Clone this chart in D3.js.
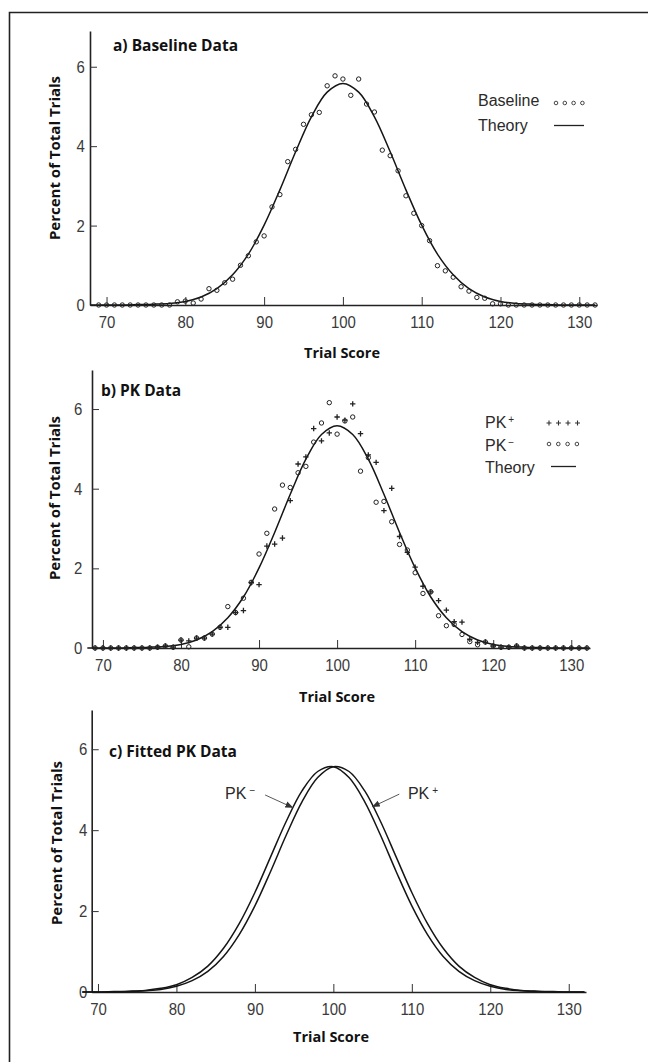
<!DOCTYPE html>
<html lang="en">
<head>
<meta charset="UTF-8">
<title>Baseline and PK data</title>
<script src="https://d3js.org/d3.v7.min.js"></script>
<style>
  body { margin: 0; background: #fff; }
  .tick text { font-family: "Liberation Sans", Arial, sans-serif; font-size: 17px; fill: #3a3a3a; }
  .tick line { stroke: #333; stroke-width: 1; }
  .domain { stroke: #222; stroke-width: 1.6; }
  .bold { font-family: "Open Sans", sans-serif; font-weight: 700; fill: #111; }
  .leg { font-family: "Liberation Sans", Arial, sans-serif; font-size: 16px; fill: #2a2a2a; }
</style>
</head>
<body>
<svg width="648" height="1062"></svg>
<script>
// trial scores (x categories)
var scores = [69,70,71,72,73,74,75,76,77,78,79,80,81,82,83,84,85,86,87,88,89,90,91,92,93,94,95,96,97,98,99,100,
              101,102,103,104,105,106,107,108,109,110,111,112,113,114,115,116,117,118,119,120,121,122,123,124,125,126,127,128,129,130,131,132];

// a) baseline percent per score
var baseline = [0,0,0,0,0,0,0,0,0,0,0.08,0.1,0.05,0.15,0.41,0.37,0.56,0.65,1.0,1.24,1.59,1.74,2.47,2.78,3.61,3.92,4.55,4.79,4.85,5.52,5.77,5.69,
                5.28,5.69,5.06,4.86,3.9,3.76,3.38,2.75,2.31,2.0,1.62,0.99,0.86,0.7,0.46,0.35,0.19,0.17,0.03,0.03,0,0,0,0,0,0,0,0,0,0,0,0];

// b) PK+ and PK- percent per score
var pkPlus = [0,0,0,0,0,0,0,0,0.02,0.05,0.02,0.2,0.18,0.25,0.25,0.35,0.52,0.52,0.89,0.94,1.64,1.59,2.56,2.61,2.76,3.7,4.62,4.8,5.51,5.2,5.4,5.8,
              5.72,6.13,5.38,4.85,4.66,3.45,4.01,2.8,2.4,2.03,1.55,1.41,1.19,0.95,0.66,0.65,0.22,0.14,0.15,0.05,0.02,0.02,0.05,0,0,0,0,0,0,0,0,0];
var pkMinus = [0,0,0,0,0,0,0,0,0.02,0.05,0.02,0.2,0.03,0.25,0.25,0.35,0.52,1.04,0.89,1.25,1.65,2.36,2.88,3.49,4.09,4.03,4.4,4.56,5.17,5.65,6.16,5.37,
               5.7,5.8,4.44,4.78,3.66,3.68,3.17,2.6,2.46,1.89,1.37,1.41,0.81,0.56,0.59,0.34,0.16,0.08,0.15,0.05,0.02,0.02,0.05,0,0,0,0,0,0,0,0,0];

// curves, sampled every 2 score points
var curveScores = [68,70,72,74,76,78,80,82,84,86,88,90,92,94,96,98,100,102,104,106,108,110,112,114,116,118,120,122,124,126,128,130,132];
var theory   = [0,0,0,0.01,0.02,0.04,0.09,0.20,0.41,0.76,1.28,2.01,2.90,3.86,4.74,5.36,5.58,5.36,4.74,3.86,2.90,2.01,1.28,0.76,0.41,0.20,0.09,0.04,0.02,0.01,0,0,0];
var fitMinus = [0,0,0.01,0.02,0.04,0.09,0.18,0.36,0.64,1.08,1.69,2.46,3.34,4.22,4.97,5.45,5.57,5.30,4.70,3.88,2.98,2.13,1.42,0.88,0.51,0.28,0.14,0.06,0.03,0.01,0,0,0];
var fitPlus  = [0,0,0,0.01,0.03,0.06,0.14,0.28,0.51,0.88,1.42,2.13,2.98,3.88,4.70,5.30,5.57,5.45,4.97,4.22,3.34,2.46,1.69,1.08,0.64,0.36,0.18,0.09,0.04,0.02,0.01,0,0];

var xTicks = [70, 80, 90, 100, 110, 120, 130];
var yTicks = [0, 2, 4, 6];

var svg = d3.select('svg');

// frame (only top and left edges show)
svg.append('path').attr('d', 'M9.5,1062V12.5H648')
    .attr('fill', 'none').attr('stroke', '#222').attr('stroke-width', 1.6);

function makePanel(p) {
    var x = d3.scaleLinear().domain(p.xd).range(p.xr);
    var y = d3.scaleLinear().domain(p.yd).range(p.yr);
    var g = svg.append('g');

    g.append('g')
        .attr('transform', 'translate(0,' + p.yr[0] + ')')
        .call(d3.axisBottom(x).tickValues(xTicks).tickFormat(d3.format('d'))
            .tickSizeInner(-8).tickSizeOuter(0).tickPadding(11))
        .selectAll('.tick text').attr('transform', 'scale(0.88,1)');

    g.append('g')
        .attr('transform', 'translate(' + p.xr[0] + ',0)')
        .call(d3.axisLeft(y).tickValues(yTicks).tickFormat(d3.format('d'))
            .tickSizeInner(-7).tickSizeOuter(0).tickPadding(p.ypad))
        .selectAll('.tick text').attr('transform', 'scale(0.88,1)');

    // axis titles
    g.append('text').attr('class', 'bold')
        .attr('transform', 'translate(' + p.ylabX + ',' + p.ylabY + ') rotate(-90)')
        .attr('text-anchor', 'middle').attr('dy', '0.35em')
        .style('font-size', '15px')
        .text('Percent of Total Trials');
    g.append('text').attr('class', 'bold')
        .attr('x', p.xlabX).attr('y', p.xlabY)
        .attr('text-anchor', 'middle')
        .style('font-size', '14.5px')
        .text('Trial Score');
    g.append('text').attr('class', 'bold')
        .attr('x', p.titleX).attr('y', p.titleY)
        .style('font-size', '15.5px')
        .text(p.title);

    return { g: g, x: x, y: y };
}

var line = function (x, y) {
    return d3.line().x(function (d) { return x(d[0]); }).y(function (d) { return y(d[1]); })
        .curve(d3.curveCatmullRom);
};

function drawCurve(P, vals) {
    P.g.append('path')
        .datum(d3.zip(curveScores, vals))
        .attr('d', line(P.x, P.y))
        .attr('fill', 'none').attr('stroke', '#151515').attr('stroke-width', 1.5);
}

function drawCircles(P, vals) {
    P.g.append('g').selectAll('circle')
        .data(d3.zip(scores, vals))
        .enter().append('circle')
        .attr('cx', function (d) { return P.x(d[0]); })
        .attr('cy', function (d) { return P.y(d[1]); })
        .attr('r', 2.2)
        .attr('fill', 'none').attr('stroke', '#222').attr('stroke-width', 1);
}

function drawPlus(P, vals) {
    P.g.append('g').selectAll('path')
        .data(d3.zip(scores, vals))
        .enter().append('path')
        .attr('transform', function (d) { return 'translate(' + P.x(d[0]) + ',' + P.y(d[1]) + ')'; })
        .attr('d', 'M-2.7,0H2.7M0,-2.7V2.7')
        .attr('stroke', '#222').attr('stroke-width', 1.3);
}

// ---------- a) Baseline Data
var A = makePanel({
    xd: [67.9, 132.25], xr: [90, 597], yd: [0, 6.9], yr: [305, 31], ypad: 6,
    ylabX: 55, ylabY: 158, xlabX: 342, xlabY: 358,
    title: 'a) Baseline Data', titleX: 113, titleY: 51
});
drawCurve(A, theory);
drawCircles(A, baseline);

A.g.append('text').attr('class', 'leg').attr('x', 478).attr('y', 106).text('Baseline');
A.g.append('text').attr('class', 'leg').attr('x', 478).attr('y', 131).text('Theory');
[0, 1, 2, 3].forEach(function (i) {
    A.g.append('circle').attr('cx', 556 + i * 8.8).attr('cy', 103).attr('r', 1.8)
        .attr('fill', 'none').attr('stroke', '#333').attr('stroke-width', 0.9);
});
A.g.append('line').attr('x1', 554).attr('x2', 584).attr('y1', 125.5).attr('y2', 125.5)
    .attr('stroke', '#222').attr('stroke-width', 1.3);

// ---------- b) PK Data
var B = makePanel({
    xd: [68.6, 132.4], xr: [92, 590], yd: [0, 6.98], yr: [648, 370], ypad: 11,
    ylabX: 55, ylabY: 498, xlabX: 337, xlabY: 702,
    title: 'b) PK Data', titleX: 101, titleY: 396
});
drawCurve(B, theory);
drawCircles(B, pkMinus);
drawPlus(B, pkPlus);

var lp = B.g.append('text').attr('class', 'leg').attr('x', 485).attr('y', 428);
lp.append('tspan').text('PK');
lp.append('tspan').attr('dx', 2).attr('dy', -5).style('font-size', '10px').text('+');
var lm = B.g.append('text').attr('class', 'leg').attr('x', 485).attr('y', 451);
lm.append('tspan').text('PK');
lm.append('tspan').attr('dx', 2).attr('dy', -5).style('font-size', '10px').text('\u2212');
B.g.append('text').attr('class', 'leg').attr('x', 485).attr('y', 473).text('Theory');
[0, 1, 2, 3].forEach(function (i) {
    B.g.append('path').attr('transform', 'translate(' + (549 + i * 9.5) + ',423)')
        .attr('d', 'M-2.5,0H2.5M0,-2.5V2.5').attr('stroke', '#333').attr('stroke-width', 1.1);
    B.g.append('circle').attr('cx', 549 + i * 9.3).attr('cy', 444).attr('r', 1.8)
        .attr('fill', 'none').attr('stroke', '#333').attr('stroke-width', 0.9);
});
B.g.append('line').attr('x1', 551).attr('x2', 576).attr('y1', 466.5).attr('y2', 466.5)
    .attr('stroke', '#222').attr('stroke-width', 1.3);

// ---------- c) Fitted PK Data
var C = makePanel({
    xd: [69.2, 132.2], xr: [91.7, 586], yd: [0, 6.97], yr: [992, 710], ypad: 5,
    ylabX: 57, ylabY: 843, xlabX: 331, xlabY: 1042,
    title: 'c) Fitted PK Data', titleX: 109, titleY: 757
});
drawCurve(C, fitMinus);
drawCurve(C, fitPlus);

svg.append('defs').append('marker')
    .attr('id', 'arr').attr('viewBox', '0 0 10 10').attr('refX', 9).attr('refY', 5)
    .attr('markerWidth', 8).attr('markerHeight', 8).attr('markerUnits', 'userSpaceOnUse')
    .attr('orient', 'auto')
    .append('path').attr('d', 'M0,1L10,5L0,9Z').attr('fill', '#333');

// arrow labels, placed in data units
var notes = [
    { label: 'PK', sup: '\u2212', tx: 86.2, ty: 4.77, from: [91.3, 4.87], to: [94.8, 4.56] },
    { label: 'PK', sup: '+', tx: 109.5, ty: 4.77, from: [108.4, 4.89], to: [105.0, 4.58] }
];
notes.forEach(function (n) {
    var t = C.g.append('text').attr('class', 'leg').attr('x', C.x(n.tx)).attr('y', C.y(n.ty));
    t.append('tspan').text(n.label);
    t.append('tspan').attr('dx', 3).attr('dy', -5).style('font-size', '10px').text(n.sup);
    C.g.append('line')
        .attr('x1', C.x(n.from[0])).attr('y1', C.y(n.from[1]))
        .attr('x2', C.x(n.to[0])).attr('y2', C.y(n.to[1]))
        .attr('stroke', '#444').attr('stroke-width', 0.9)
        .attr('marker-end', 'url(#arr)');
});
</script>
</body>
</html>
